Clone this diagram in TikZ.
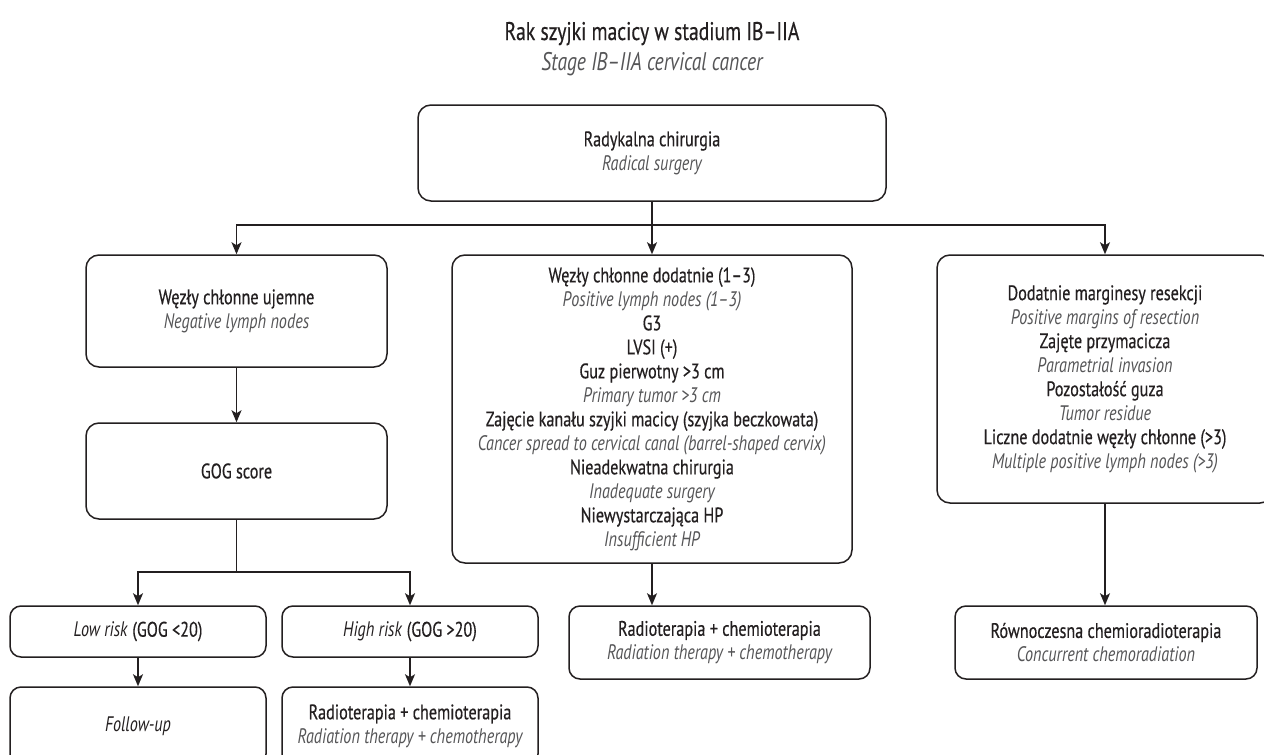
\documentclass[tikz,border=0pt]{standalone}
\usepackage{fontspec}
\setmainfont{PT Sans}[FakeStretch=0.77, UprightFeatures={FakeBold=0.4}]
\usetikzlibrary{arrows.meta}
\definecolor{ink}{HTML}{231F20}
\definecolor{sub}{HTML}{555557}
\newcommand{\en}[1]{{\itshape\color{sub}#1}}
\begin{document}
\begin{tikzpicture}[x=1pt,y=-1pt,
  box/.style={draw=ink, line width=1.5pt, rounded corners=13pt, align=center, text=ink,
    font=\fontsize{21}{24}\selectfont, inner sep=0pt},
  ttl/.style={text=ink, font=\fontsize{25.5}{30}\selectfont, anchor=base, inner sep=0pt},
  arr/.style={draw=ink, line width=1.5pt, -{Stealth[length=12pt,width=10pt,inset=3pt]}},
  ln/.style={draw=ink, line width=1.5pt}]
\useasboundingbox (0,0) rectangle (1264,755);
\fill[white] (0,0) rectangle (1264,755);

\node[ttl] (title) at (652,40) {Rak szyjki macicy w stadium IB–IIA};
\node[ttl, text=sub, font=\fontsize{25.5}{30}\selectfont\itshape] (subtitle) at (652,70) {Stage IB–IIA cervical cancer};

\node[box, minimum width=468pt, minimum height=96pt] (surg) at (652,153)
  {Radykalna chirurgia\\ \en{Radical surgery}};

\node[box, minimum width=301pt, minimum height=112pt] (neg) at (236.5,311)
  {Węzły chłonne ujemne\\ \en{Negative lymph nodes}};
\node[box, minimum width=301pt, minimum height=96pt] (gog) at (236.5,471)
  {GOG score};
\node[box, minimum width=256pt, minimum height=51pt, rounded corners=11pt] (low) at (138,631.5)
  {\textit{Low risk} (GOG \textless20)};
\node[box, minimum width=256pt, minimum height=51pt, rounded corners=11pt] (high) at (410,631.5)
  {\textit{High risk} (GOG \textgreater20)};
\node[box, minimum width=256pt, minimum height=78pt, rounded corners=11pt] (fup) at (138,726)
  {\textit{Follow-up}};
\node[box, minimum width=256pt, minimum height=78pt, rounded corners=11pt] (hrt) at (410,726)
  {Radioterapia + chemioterapia\\ \en{Radiation therapy + chemotherapy}};

\node[box, minimum width=400pt, minimum height=308pt] (pos) at (652,409)
  {Węzły chłonne dodatnie (1–3)\\
   \en{Positive lymph nodes (1–3)}\\
   G3\\
   LVSI (+)\\
   Guz pierwotny \textgreater3 cm\\
   \en{Primary tumor \textgreater3 cm}\\
   Zajęcie kanału szyjki macicy (szyjka beczkowata)\\
   \en{Cancer spread to cervical canal (barrel-shaped cervix)}\\
   Nieadekwatna chirurgia\\
   \en{Inadequate surgery}\\
   Niewystarczająca HP\\
   \en{Insufficient HP}};
\node[box, minimum width=301pt, minimum height=73pt, rounded corners=11pt] (rct) at (719.5,642.5)
  {Radioterapia + chemioterapia\\ \en{Radiation therapy + chemotherapy}};

\node[box, minimum width=336pt, minimum height=248pt] (marg) at (1105,379)
  {Dodatnie marginesy resekcji\\
   \en{Positive margins of resection}\\
   Zajęte przymacicza\\
   \en{Parametrial invasion}\\
   Pozostałość guza\\
   \en{Tumor residue}\\
   Liczne dodatnie węzły chłonne (\textgreater3)\\
   \en{Multiple positive lymph nodes (\textgreater3)}};
\node[box, minimum width=302pt, minimum height=73pt, rounded corners=11pt] (crt) at (1106,642.5)
  {Równoczesna chemioradioterapia\\ \en{Concurrent chemoradiation}};

\coordinate (jtop) at (652,225);
\coordinate (jgog) at (236.5,572);

\draw[ln] (surg.south) -- (jtop);
\draw[arr] (jtop) -- (pos.north);
\draw[arr] (jtop) -| (neg.north);
\draw[arr] (jtop) -| (marg.north);
\draw[arr] (neg.south) -- (gog.north);
\draw[ln] (gog.south) -- (jgog);
\draw[arr] (jgog) -| (low.north);
\draw[arr] (jgog) -| (high.north);
\draw[arr] (low.south) -- (fup.north);
\draw[arr] (high.south) -- (hrt.north);
\draw[arr] (pos.south) -- (pos.south |- rct.north);
\draw[arr] (marg.south) -- (marg.south |- crt.north);
\end{tikzpicture}
\end{document}
